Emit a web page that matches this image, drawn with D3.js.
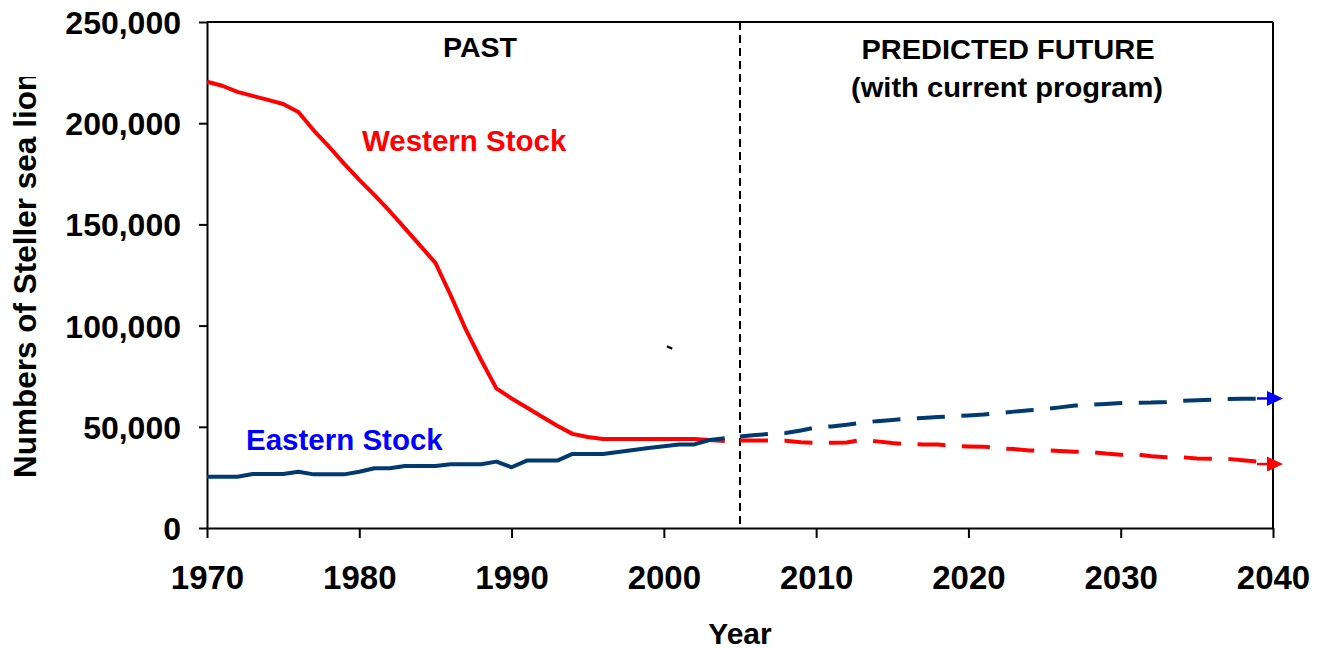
<!DOCTYPE html>
<html><head><meta charset="utf-8">
<script src="https://cdn.jsdelivr.net/npm/d3@7"></script>
<style>
body{margin:0;background:#fff}
svg{display:block}
text{font-family:"Liberation Sans",Arial,Helvetica,sans-serif;font-weight:bold}
</style>
</head><body>
<svg id="chart" width="1323" height="650"></svg>
<script>
// ---------- data ----------
const pastYears = [1970,1971,1972,1973,1974,1975,1976,1977,1978,1979,1980,1981,1982,1983,1984,1985,1986,1987,1988,1989,1990,1991,1992,1993,1994,1995,1996,1997,1998,1999,2000,2001,2002,2003,2004];
const westernPast = [220500,218500,215500,213500,211500,209500,205500,196500,188500,180000,172000,164500,156500,148000,139500,131000,115000,98000,83000,69000,64000,59500,55000,50500,46500,45000,44000,44000,44000,44000,44000,44000,44000,43500,43000];
const easternPast = [25300,25300,25300,26700,26700,26700,27800,26500,26500,26500,27800,29500,29500,30600,30600,30600,31500,31500,31500,32800,30000,33300,33300,33300,36600,36600,36600,37500,38500,39500,40400,41300,41300,43500,44300];
const futureYears = [2005,2006,2007,2008,2009,2010,2011,2012,2013,2014,2015,2016,2017,2018,2019,2020,2021,2022,2023,2024,2025,2026,2027,2028,2029,2030,2031,2032,2033,2034,2035,2036,2037,2038,2039,2040];
const westernFuture = [43200,43200,43200,43100,42400,42100,42100,42200,43500,42800,42000,41400,41300,41200,40500,40300,40200,39400,39000,38300,38400,38000,37700,37600,36800,36200,36400,35500,35000,35000,34300,34200,34200,33500,32800,31600];
const easternFuture = [45200,45900,46500,46900,48200,49700,50200,51000,52000,52800,53400,54000,54400,54800,55200,55600,56100,56800,57500,58200,58700,59600,60500,60900,61300,61700,61900,62000,62300,62800,63100,63400,63700,63800,63900,64000];
const xTicks = [1970,1980,1990,2000,2010,2020,2030,2040];
const yTicks = [0,50000,100000,150000,200000,250000];
const splitYear = 2005;

// ---------- layout ----------
const svg = d3.select('#chart');
const x = d3.scaleLinear().domain([1970,2040]).range([207,1273]);
const y = d3.scaleLinear().domain([0,250000]).range([528,22]);
const RED = '#ff0000', NAVY = '#003a70', BLUE = '#0000ff';
const FONT = '"Liberation Sans",Arial,sans-serif';

// frame (top & right)
svg.append('line').attr('x1',x(1970)).attr('x2',x(2040)).attr('y1',y(250000)).attr('y2',y(250000))
  .attr('stroke','#000').attr('stroke-width',2);
svg.append('line').attr('x1',x(2040)).attr('x2',x(2040)).attr('y1',y(250000)).attr('y2',y(0))
  .attr('stroke','#000').attr('stroke-width',2);

// axes
const gx = svg.append('g').attr('transform',`translate(0,${y(0)})`)
  .call(d3.axisBottom(x).tickValues(xTicks).tickFormat(d3.format('d')).tickSize(10).tickSizeOuter(0).tickPadding(28));
const gy = svg.append('g').attr('transform',`translate(${x(1970)},0)`)
  .call(d3.axisLeft(y).tickValues(yTicks).tickFormat(d3.format(',')).tickSize(8).tickSizeOuter(0).tickPadding(18));
[gx,gy].forEach(g=>{
  g.selectAll('path,line').attr('stroke','#000').attr('stroke-width',2);
  g.selectAll('text').attr('fill','#000').style('font-family',FONT).style('font-weight','bold');
});
gx.selectAll('text').style('font-size','33px');
gy.selectAll('text').style('font-size','32px').attr('dy','0.36em');

// divider
svg.append('line').attr('x1',x(splitYear)).attr('x2',x(splitYear)).attr('y1',y(250000)).attr('y2',y(0))
  .attr('stroke','#000').attr('stroke-width',2).attr('stroke-dasharray','8,5');

// lines
const line = d3.line().x(d=>x(d[0])).y(d=>y(d[1]));
const zip = (a,b)=>a.map((v,i)=>[v,b[i]]);
function addArrow(id,color){
  const mk = svg.append('defs').append('marker').attr('id',id)
    .attr('markerUnits','userSpaceOnUse').attr('markerWidth',40).attr('markerHeight',20)
    .attr('viewBox','-20 -10 40 20').attr('refX',0).attr('refY',0).attr('orient','0').attr('overflow','visible');
  mk.append('path').attr('d','M-16,0L-4,0').attr('stroke',color).attr('stroke-width',2.5);
  mk.append('path').attr('d','M-6,-7.5L10,0L-6,7.5Z').attr('fill',color);
}
addArrow('arrR',RED); addArrow('arrB',BLUE);

svg.append('path').datum(zip(pastYears,westernPast)).attr('d',line)
  .attr('fill','none').attr('stroke',RED).attr('stroke-width',4).attr('stroke-linejoin','round');
svg.append('path').datum(zip(pastYears,easternPast)).attr('d',line)
  .attr('fill','none').attr('stroke',NAVY).attr('stroke-width',4).attr('stroke-linejoin','round');
svg.append('path').datum(zip(futureYears,westernFuture)).attr('d',line)
  .attr('fill','none').attr('stroke',RED).attr('stroke-width',4).attr('stroke-dasharray','28,16.5').attr('marker-end','url(#arrR)');
svg.append('path').datum(zip(futureYears,easternFuture)).attr('d',line)
  .attr('fill','none').attr('stroke',NAVY).attr('stroke-width',4).attr('stroke-dasharray','28,16.5').attr('marker-end','url(#arrB)');

// stray mark
svg.append('line').attr('x1',x(2000.2)).attr('y1',y(89800)).attr('x2',x(2000.55)).attr('y2',y(88600))
  .attr('stroke','#000').attr('stroke-width',2.2);

// labels
svg.append('text').attr('x',362).attr('y',151).attr('fill',RED).style('font-size','29.5px').text('Western Stock');
svg.append('text').attr('x',246).attr('y',450).attr('fill',BLUE).style('font-size','29.5px').text('Eastern Stock');
svg.append('text').attr('x',480).attr('y',57).attr('text-anchor','middle').style('font-size','28px')
  .attr('textLength',74).attr('lengthAdjust','spacingAndGlyphs').text('PAST');
svg.append('text').attr('x',1008).attr('y',59).attr('text-anchor','middle').style('font-size','28px')
  .attr('textLength',293).attr('lengthAdjust','spacingAndGlyphs').text('PREDICTED FUTURE');
svg.append('text').attr('x',1007).attr('y',97).attr('text-anchor','middle').style('font-size','28px')
  .attr('textLength',312).attr('lengthAdjust','spacingAndGlyphs').text('(with current program)');
svg.append('text').attr('x',740).attr('y',644).attr('text-anchor','middle').style('font-size','30px').text('Year');

svg.append('clipPath').attr('id','yclip').append('rect').attr('x',0).attr('y',77).attr('width',80).attr('height',500);
svg.append('g').attr('clip-path','url(#yclip)').append('text')
  .attr('transform','translate(36,478) rotate(-90)').style('font-size','31.5px').text('Numbers of Steller sea lions');
</script>
</body></html>
